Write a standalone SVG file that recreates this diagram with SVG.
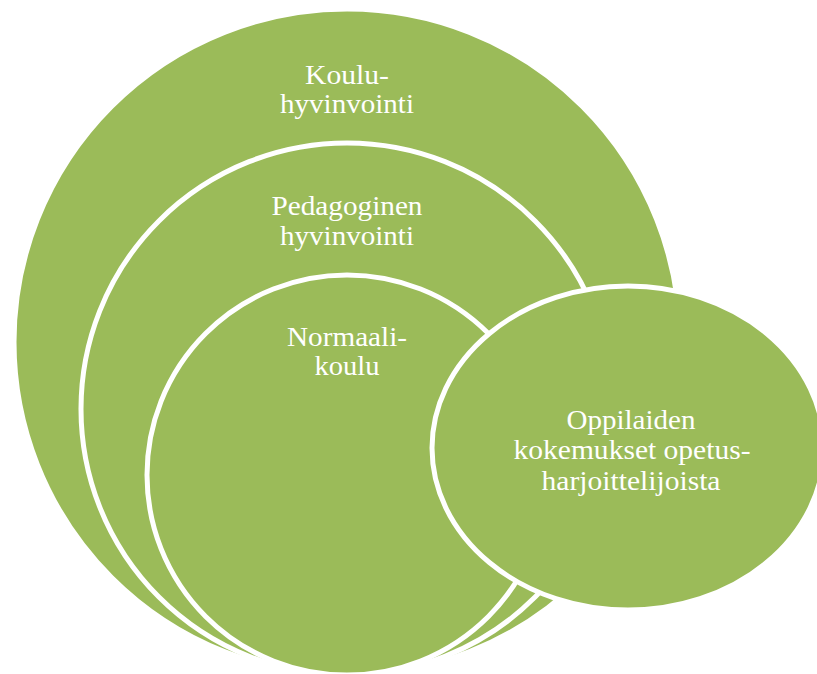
<svg xmlns="http://www.w3.org/2000/svg" width="817" height="674" viewBox="0 0 817 674">
<style>
.shape{fill:#9BBB59;stroke:#FFFFFF;stroke-width:5}
.lbl{font-family:"Liberation Serif","Times New Roman",serif;font-size:27px;fill:#FFFFFF;text-anchor:middle}
</style>
<rect width="817" height="674" fill="#FFFFFF"/>
<g id="koulu-hyvinvointi">
<circle class="shape" cx="347" cy="342" r="333"/>
<text class="lbl" x="347" y="84" textLength="84" lengthAdjust="spacingAndGlyphs">Koulu-</text>
<text class="lbl" x="347" y="113" textLength="134" lengthAdjust="spacingAndGlyphs">hyvinvointi</text>
</g>
<g id="pedagoginen-hyvinvointi">
<circle class="shape" cx="347" cy="409" r="266"/>
<text class="lbl" x="347" y="215" textLength="151" lengthAdjust="spacingAndGlyphs">Pedagoginen</text>
<text class="lbl" x="347" y="245" textLength="134" lengthAdjust="spacingAndGlyphs">hyvinvointi</text>
</g>
<g id="normaalikoulu">
<circle class="shape" cx="347" cy="475" r="200"/>
<text class="lbl" x="347" y="346" textLength="120" lengthAdjust="spacingAndGlyphs">Normaali-</text>
<text class="lbl" x="347" y="375" textLength="65" lengthAdjust="spacingAndGlyphs">koulu</text>
</g>
<g id="oppilaiden-kokemukset">
<ellipse class="shape" cx="628" cy="448" rx="196" ry="162"/>
<text class="lbl" x="631" y="429" textLength="129" lengthAdjust="spacingAndGlyphs">Oppilaiden</text>
<text class="lbl" x="632" y="459" textLength="237" lengthAdjust="spacingAndGlyphs">kokemukset opetus-</text>
<text class="lbl" x="631" y="490" textLength="179" lengthAdjust="spacingAndGlyphs">harjoittelijoista</text>
</g>
<g id="connectors"/>
</svg>
